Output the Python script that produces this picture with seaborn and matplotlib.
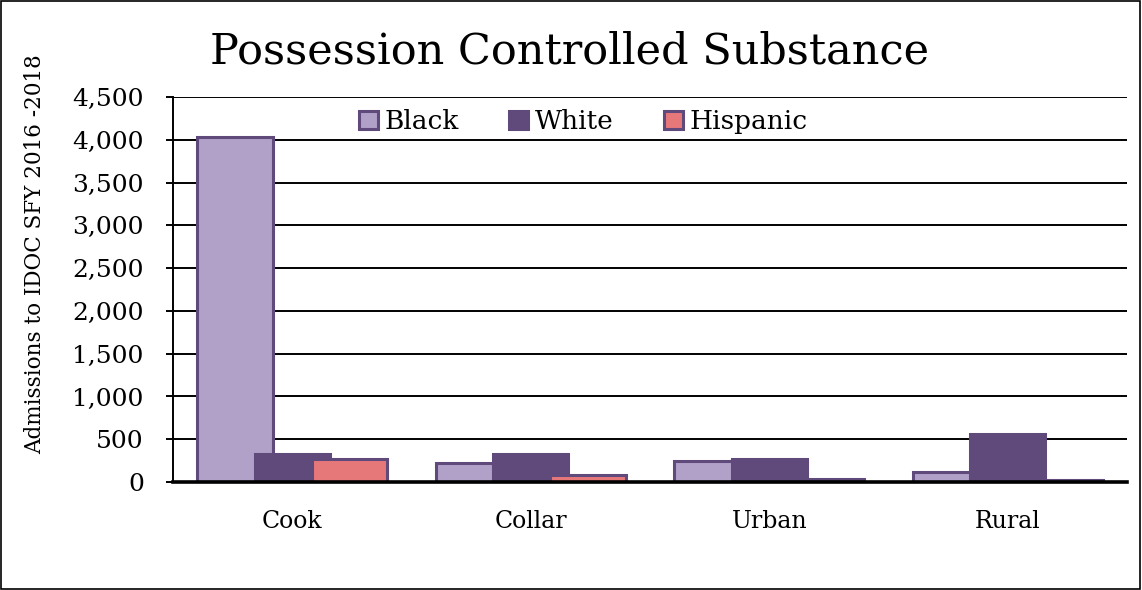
import matplotlib
matplotlib.use("Agg")
import matplotlib.pyplot as plt
from matplotlib.patches import Rectangle, Patch
from matplotlib.ticker import FuncFormatter
import seaborn as sns
import pandas as pd

regions = ["Cook", "Collar", "Urban", "Rural"]
races = ["Black", "White", "Hispanic"]
black = [4030, 220, 245, 115]
white = [330, 325, 265, 565]
hispanic = [265, 80, 30, 25]

colors = {"Black": "#B1A0C7", "White": "#604A7B", "Hispanic": "#E6787A"}
edge = "#604A7B"

df = pd.DataFrame({
    "region": regions * 3,
    "race": ["Black"] * 4 + ["White"] * 4 + ["Hispanic"] * 4,
    "count": black + white + hispanic,
})

sns.set_style("white")
plt.rcParams["font.family"] = ["DejaVu Serif"]
plt.rcParams["text.color"] = "black"
plt.rcParams["xtick.color"] = "black"
plt.rcParams["ytick.color"] = "black"
plt.rcParams["axes.labelcolor"] = "black"

fig = plt.figure(figsize=(11.42, 5.90), dpi=100)
ax = fig.add_axes([0.1515, 0.183, 0.8354, 0.6525])

sns.barplot(data=df, x="region", y="count", hue="race", hue_order=races,
            order=regions, palette=colors, width=0.72, saturation=1,
            edgecolor=edge, linewidth=2.2, ax=ax, legend=False, zorder=3)

# widen bars so neighbouring series overlap
bar_w = 0.315
for p in ax.patches:
    c = p.get_x() + p.get_width() / 2
    p.set_width(bar_w)
    p.set_x(c - bar_w / 2)

ax.set_ylim(0, 4500)
ax.set_xlim(-0.5, 3.5)
ax.set_yticks(range(0, 4501, 500))
ax.yaxis.set_major_formatter(FuncFormatter(lambda v, _: f"{int(v):,}"))
ax.grid(axis="y", color="black", linewidth=1.4, zorder=0)
ax.set_axisbelow(True)
for s in ["top", "right"]:
    ax.spines[s].set_visible(False)
ax.spines["left"].set_color("black")
ax.spines["left"].set_linewidth(1.4)
ax.spines["bottom"].set_color("black")
ax.spines["bottom"].set_linewidth(2.6)
ax.spines["bottom"].set_zorder(5)
ax.tick_params(axis="y", direction="out", length=5, width=1.4, color="black",
               labelcolor="black", labelsize=18, pad=16, left=True)
ax.tick_params(axis="x", length=0, labelsize=17, labelcolor="black", pad=20)
ax.set_xlabel("")
ax.set_ylabel("")

handles = [Patch(facecolor=colors[r], edgecolor=edge if r != "White" else colors[r],
                 linewidth=2.2) for r in races]
leg = ax.legend(handles, races, loc="upper center", bbox_to_anchor=(0.43, 1.03),
                ncol=3, frameon=False, fontsize=19, handlelength=0.72,
                handleheight=0.72, handletextpad=0.25, columnspacing=1.9)
for t in leg.get_texts():
    t.set_color("black")

fig.text(0.499, 0.912, "Possession Controlled Substance", ha="center",
         va="center", fontsize=31, color="black")
fig.text(0.031, 0.57, "Admissions to IDOC SFY 2016 -2018", rotation=90,
         ha="center", va="center", fontsize=15.5, color="black")

fig.patches.append(Rectangle((0.001, 0.002), 0.997, 0.996, transform=fig.transFigure,
                             fill=False, edgecolor="black", linewidth=1.2))

fig.savefig("out.png", dpi=100)
